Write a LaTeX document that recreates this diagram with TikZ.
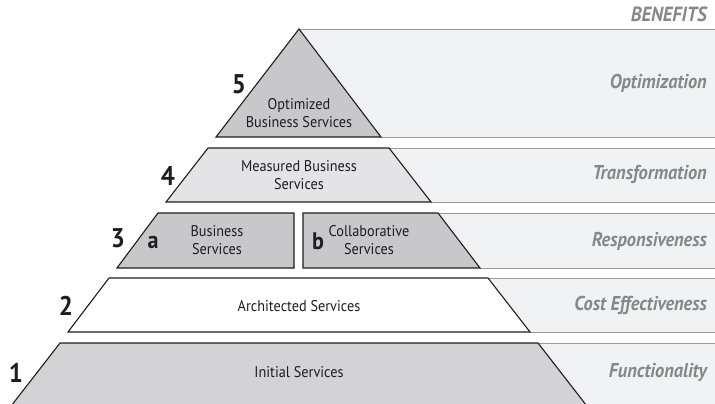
\documentclass[tikz,border=0pt]{standalone}
\usepackage{fontspec}
\setmainfont{PT Sans}[FakeStretch=0.92]
\definecolor{bandfill}{HTML}{F1F2F4}
\definecolor{bandline}{HTML}{9C9C9E}
\definecolor{midgray}{HTML}{C8C8CA}
\definecolor{lightgray}{HTML}{E4E4E6}
\definecolor{basegray}{HTML}{D3D3D5}
\definecolor{benefit}{HTML}{87878A}
\definecolor{ink}{HTML}{1E1E1E}
\tikzset{
  layer/.style={draw=ink, line width=1.1pt, line join=miter},
  band/.style={fill=bandfill, draw=none},
  bandedge/.style={draw=bandline, line width=0.9pt},
  lbl/.style={font=\fontsize{15.5}{18}\selectfont, text=ink, align=center, inner sep=0pt},
  num/.style={font=\fontsize{27}{29}\selectfont\bfseries, text=ink, inner sep=0pt},
  sub/.style={font=\fontsize{24}{26}\selectfont\bfseries, text=ink, inner sep=0pt},
  ben/.style={font=\fontsize{20}{22}\selectfont\bfseries\itshape, text=benefit, anchor=east, inner sep=0pt}
}
\begin{document}
\begin{tikzpicture}[x=1pt,y=-1pt]
\useasboundingbox (0,0) rectangle (715,404);
\clip (0,0) rectangle (715,404);
% benefit bands
\fill[band] (299,29) -- (715,29) -- (715,137) -- (381,137) -- cycle;
\fill[band] (389,148) -- (715,148) -- (715,202) -- (431,202) -- cycle;
\fill[band] (438,213) -- (715,213) -- (715,268) -- (480,268) -- cycle;
\fill[band] (488,278) -- (715,278) -- (715,332) -- (530,332) -- cycle;
\fill[band] (538,343) -- (715,343) -- (715,410) -- (590,410) -- cycle;
\draw[bandedge] (299,29.5) -- (715,29.5);
\draw[bandedge] (381,137) -- (715,137);
\draw[bandedge] (389,148) -- (715,148);
\draw[bandedge] (431,202) -- (715,202);
\draw[bandedge] (438,213) -- (715,213);
\draw[bandedge] (480,268) -- (715,268);
\draw[bandedge] (488,278) -- (715,278);
\draw[bandedge] (530,332) -- (715,332);
\draw[bandedge] (538,343) -- (715,343);
% pyramid layers
\draw[layer, fill=midgray] (299,29) -- (381,137) -- (216,137) -- cycle;
\draw[layer, fill=lightgray] (208,148) -- (389,148) -- (431,202) -- (166,202) -- cycle;
\draw[layer, fill=midgray] (158,213) -- (294,213) -- (294,268) -- (117,268) -- cycle;
\draw[layer, fill=midgray] (303,213) -- (438,213) -- (480,268) -- (303,268) -- cycle;
\draw[layer, fill=white] (109,278) -- (488,278) -- (530,332) -- (68,332) -- cycle;
\draw[layer, fill=basegray] (60,343) -- (538,343) -- (590,410) -- (8,410) -- cycle;
% layer labels
\node[lbl] (l5) at (299,113) {Optimized\\Business Services};
\node[lbl] (l4) at (299,175) {Measured Business\\Services};
\node[lbl] (l3a) at (217,240) {Business\\Services};
\node[lbl] (l3b) at (369,240) {Collaborative\\Services};
\node[lbl] (l2) at (299,306) {Architected Services};
\node[lbl] (l1) at (299,372) {Initial Services};
% level numbers
\node[num] (n5) at (239,84) {5};
\node[num] (n4) at (168,176) {4};
\node[num] (n3) at (118,238) {3};
\node[num] (n2) at (66,306) {2};
\node[num] (n1) at (16,372.5) {1};
\node[sub, anchor=base] (sa) at (153,248) {a};
\node[sub, anchor=base] (sb) at (318,249) {b};
% benefits
\node[ben, font=\fontsize{20.5}{22}\selectfont\bfseries\itshape] (bh) at (707,14) {BENEFITS};
\node[ben] (b5) at (707,83) {Optimization};
\node[ben] (b4) at (707,174) {Transformation};
\node[ben] (b3) at (707,241) {Responsiveness};
\node[ben] (b2) at (707,305) {Cost Effectiveness};
\node[ben] (b1) at (707,372) {Functionality};
\end{tikzpicture}
\end{document}
